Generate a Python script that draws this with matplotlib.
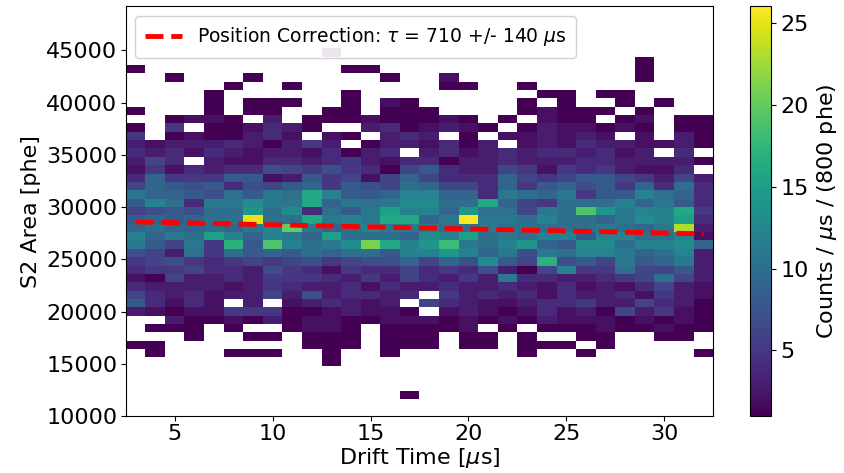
import numpy as np
import matplotlib
matplotlib.use('Agg')
import matplotlib.pyplot as plt

# Drift time bins [us] (1 us wide) and S2 area bins [phe] (800 phe wide).
time_edges = np.arange(2.5, 33.0, 1.0)
s2_edges = np.arange(10000, 50000, 800)

# Counts per (1 us x 800 phe) bin. One row per S2 bin, listed from the
# top bin (k = 43, 44400-45200 phe) down to k = 2 (11600-12400 phe);
# columns are drift time 3 ... 32 us.
counts_top_down = [
    [0, 0, 0, 0, 0, 0, 0, 0, 0, 0, 1, 0, 0, 0, 0, 0, 0, 0, 0, 0, 0, 0, 0, 0, 0, 0, 0, 0, 0, 0],  # k43
    [0, 0, 0, 0, 0, 0, 0, 0, 0, 0, 0, 0, 0, 0, 0, 0, 0, 0, 0, 0, 0, 0, 0, 0, 0, 0, 1, 0, 0, 0],  # k42
    [1, 0, 0, 0, 0, 0, 0, 0, 0, 0, 0, 1, 1, 0, 0, 0, 0, 0, 0, 0, 0, 0, 0, 0, 0, 0, 1, 0, 0, 0],  # k41
    [0, 0, 1, 0, 0, 0, 1, 0, 0, 0, 0, 0, 0, 1, 0, 0, 2, 0, 0, 0, 0, 0, 0, 0, 0, 0, 1, 0, 0, 0],  # k40
    [0, 0, 0, 0, 0, 1, 0, 0, 1, 0, 0, 0, 0, 0, 0, 0, 1, 1, 0, 0, 1, 0, 0, 0, 0, 0, 0, 0, 0, 0],  # k39
    [0, 0, 0, 0, 1, 0, 0, 0, 0, 0, 0, 1, 0, 0, 0, 0, 0, 0, 0, 0, 0, 1, 1, 0, 1, 1, 0, 0, 0, 0],  # k38
    [0, 0, 0, 0, 1, 0, 1, 1, 1, 0, 0, 1, 0, 2, 1, 0, 0, 0, 0, 0, 1, 0, 1, 0, 0, 1, 0, 1, 0, 0],  # k37
    [1, 0, 0, 0, 1, 0, 1, 1, 0, 0, 1, 1, 0, 1, 1, 1, 0, 0, 0, 0, 1, 2, 1, 1, 1, 0, 1, 0, 0, 0],  # k36
    [0, 0, 1, 2, 2, 1, 0, 3, 0, 1, 1, 1, 2, 1, 1, 1, 2, 1, 0, 1, 0, 2, 1, 1, 0, 1, 2, 0, 1, 1],  # k35
    [1, 0, 5, 0, 1, 1, 2, 4, 3, 1, 0, 0, 3, 4, 1, 2, 3, 2, 1, 0, 1, 3, 2, 2, 1, 2, 1, 0, 1, 1],  # k34
    [5, 0, 1, 2, 1, 1, 3, 4, 2, 0, 2, 1, 0, 3, 4, 3, 0, 1, 0, 2, 2, 3, 2, 3, 2, 0, 2, 0, 3, 1],  # k33
    [3, 2, 3, 3, 3, 4, 3, 1, 3, 5, 3, 0, 1, 3, 3, 2, 4, 1, 3, 0, 2, 3, 2, 4, 3, 3, 2, 2, 3, 1],  # k32
    [4, 3, 4, 2, 4, 3, 2, 3, 3, 2, 4, 1, 3, 4, 0, 3, 4, 2, 3, 4, 3, 4, 4, 3, 4, 2, 3, 0, 4, 0],  # k31
    [3, 6, 4, 0, 3, 2, 2, 4, 4, 3, 4, 5, 3, 2, 4, 4, 1, 3, 3, 4, 3, 3, 3, 4, 4, 3, 3, 3, 3, 1],  # k30
    [2, 5, 2, 4, 3, 4, 4, 7, 6, 5, 7, 5, 4, 1, 6, 8, 4, 3, 3, 6, 5, 2, 5, 4, 5, 3, 2, 2, 4, 0],  # k29
    [4, 9, 5, 5, 5, 8, 8, 2, 3, 8, 5, 6, 2, 6, 9, 6, 4, 4, 4, 9, 6, 5, 6, 8, 8, 6, 5, 3, 6, 3],  # k28
    [6, 9, 8, 7, 8, 4, 7, 6, 8, 9, 5, 8, 7, 6, 10, 9, 6, 6, 4, 9, 5, 8, 9, 7, 8, 5, 9, 4, 10, 4],  # k27
    [11, 9, 9, 8, 7, 10, 8, 11, 10, 16, 12, 8, 8, 9, 12, 12, 9, 9, 4, 11, 10, 9, 11, 5, 8, 8, 12, 10, 9, 4],  # k26
    [8, 12, 10, 4, 11, 11, 13, 11, 11, 16, 9, 11, 10, 11, 13, 13, 10, 10, 16, 9, 6, 5, 10, 10, 10, 12, 9, 11, 8, 4],  # k25
    [6, 7, 8, 7, 10, 10, 14, 10, 13, 4, 10, 8, 11, 15, 12, 12, 9, 14, 10, 10, 6, 11, 10, 19, 14, 11, 12, 12, 16, 5],  # k24
    [8, 9, 8, 9, 10, 10, 25, 10, 10, 16, 11, 12, 11, 16, 16, 9, 11, 26, 11, 11, 10, 12, 10, 10, 9, 11, 13, 12, 15, 4],  # k23
    [9, 10, 9, 9, 10, 9, 11, 12, 20, 11, 9, 10, 12, 11, 11, 11, 10, 10, 11, 10, 10, 10, 10, 10, 11, 10, 9, 11, 23, 3],  # k22
    [12, 9, 11, 10, 15, 12, 9, 12, 11, 9, 15, 10, 10, 10, 9, 13, 12, 15, 10, 11, 10, 12, 12, 8, 12, 12, 10, 10, 12, 2],  # k21
    [11, 8, 6, 11, 5, 17, 8, 19, 12, 10, 11, 13, 21, 16, 12, 14, 18, 11, 10, 12, 14, 9, 8, 13, 13, 10, 12, 12, 13, 9],  # k20
    [7, 6, 3, 10, 5, 10, 8, 9, 8, 10, 9, 10, 10, 8, 12, 12, 14, 12, 9, 11, 7, 11, 10, 12, 12, 11, 9, 10, 12, 3],  # k19
    [5, 6, 7, 5, 4, 5, 6, 5, 6, 7, 5, 6, 7, 7, 9, 6, 9, 7, 13, 8, 6, 17, 7, 8, 6, 11, 8, 9, 11, 3],  # k18
    [4, 5, 5, 6, 4, 4, 3, 7, 5, 4, 2, 5, 4, 4, 6, 4, 5, 4, 7, 3, 1, 6, 12, 5, 5, 10, 6, 6, 8, 3],  # k17
    [2, 1, 6, 3, 3, 4, 3, 5, 5, 5, 4, 3, 5, 3, 6, 4, 3, 5, 3, 11, 4, 4, 3, 3, 4, 5, 6, 10, 6, 3],  # k16
    [4, 3, 3, 3, 3, 2, 3, 5, 4, 3, 3, 4, 2, 4, 3, 3, 4, 3, 3, 4, 3, 2, 4, 2, 3, 2, 4, 6, 3, 2],  # k15
    [6, 4, 3, 4, 2, 3, 3, 6, 3, 7, 3, 4, 4, 3, 4, 0, 5, 3, 4, 3, 4, 2, 4, 3, 3, 4, 2, 5, 3, 2],  # k14
    [8, 4, 2, 4, 2, 0, 3, 0, 2, 3, 4, 3, 2, 3, 0, 6, 4, 3, 2, 2, 3, 4, 4, 5, 3, 3, 6, 4, 3, 1],  # k13
    [3, 2, 1, 2, 2, 5, 5, 5, 1, 1, 2, 3, 2, 2, 1, 0, 2, 3, 2, 1, 2, 4, 2, 3, 1, 6, 3, 5, 2, 1],  # k12
    [0, 0, 3, 1, 1, 2, 1, 3, 1, 2, 2, 1, 1, 2, 2, 2, 1, 2, 1, 2, 1, 3, 2, 2, 2, 1, 2, 1, 2, 1],  # k11
    [0, 1, 1, 1, 0, 1, 0, 0, 1, 2, 2, 1, 0, 1, 1, 1, 1, 2, 0, 1, 0, 1, 1, 1, 2, 1, 1, 2, 1, 1],  # k10
    [0, 0, 0, 1, 0, 0, 1, 1, 0, 1, 1, 1, 0, 1, 1, 1, 0, 1, 1, 0, 1, 0, 0, 1, 1, 0, 0, 1, 1, 0],  # k9
    [1, 1, 0, 0, 0, 0, 0, 0, 0, 1, 1, 1, 0, 1, 1, 1, 0, 1, 1, 0, 1, 1, 1, 0, 1, 0, 0, 0, 0, 0],  # k8
    [0, 1, 0, 0, 0, 1, 1, 1, 0, 0, 1, 0, 0, 1, 0, 0, 0, 0, 0, 0, 1, 0, 0, 1, 0, 0, 0, 0, 0, 1],  # k7
    [0, 0, 0, 0, 0, 0, 0, 0, 0, 0, 1, 0, 0, 0, 0, 0, 0, 0, 0, 0, 0, 0, 0, 0, 0, 0, 0, 0, 0, 0],  # k6
    [0] * 30,  # k5
    [0] * 30,  # k4
    [0] * 30,  # k3
    [0, 0, 0, 0, 0, 0, 0, 0, 0, 0, 0, 0, 0, 0, 1, 0, 0, 0, 0, 0, 0, 0, 0, 0, 0, 0, 0, 0, 0, 0],  # k2
]
lowest_bin = 2

# Exponential position-correction fit.
tau_us = 710
tau_err_us = 140
s2_at_zero = 28700  # phe
fit_range_us = (3, 32)

# Build the full (time, S2) count grid.
n_t = len(time_edges) - 1
n_s2 = len(s2_edges) - 1
counts = np.zeros((n_s2, n_t))
rows = np.array(counts_top_down[::-1], dtype=float)
counts[lowest_bin:lowest_bin + len(rows)] = rows

t_c = 0.5 * (time_edges[:-1] + time_edges[1:])
s2_c = 0.5 * (s2_edges[:-1] + s2_edges[1:])
tt, ss = np.meshgrid(t_c, s2_c)

fig = plt.figure(figsize=(8.44, 4.73), dpi=100)
ax = fig.add_axes([0.149, 0.1205, 0.696, 0.866])
cax = fig.add_axes([0.8886, 0.1205, 0.0249, 0.866])

h = ax.hist2d(tt.ravel(), ss.ravel(), bins=[time_edges, s2_edges],
              weights=counts.ravel(), cmin=1, cmap='viridis')

t_fit = np.linspace(fit_range_us[0], fit_range_us[1], 100)
ax.plot(t_fit, s2_at_zero * np.exp(-t_fit / tau_us), color='red', ls='--',
        lw=3.5, label=r'Position Correction: $\tau$ = {} +/- {} $\mu$s'.format(
            tau_us, tau_err_us))

ax.set_xlabel(r'Drift Time [$\mu$s]', fontsize=16, labelpad=1)
ax.set_ylabel('S2 Area [phe]', fontsize=16)
ax.set_xticks([5, 10, 15, 20, 25, 30])
ax.set_yticks(np.arange(10000, 45001, 5000))
ax.tick_params(labelsize=16, pad=2.5)
ax.legend(loc='upper left', fontsize=13.5, borderpad=0.5, framealpha=0.9)

cb = fig.colorbar(h[3], cax=cax)
cb.set_label(r'Counts / $\mu$s / (800 phe)', fontsize=16)
cb.set_ticks([5, 10, 15, 20, 25])
cb.ax.tick_params(labelsize=16)

fig.savefig('out.png', dpi=100)
